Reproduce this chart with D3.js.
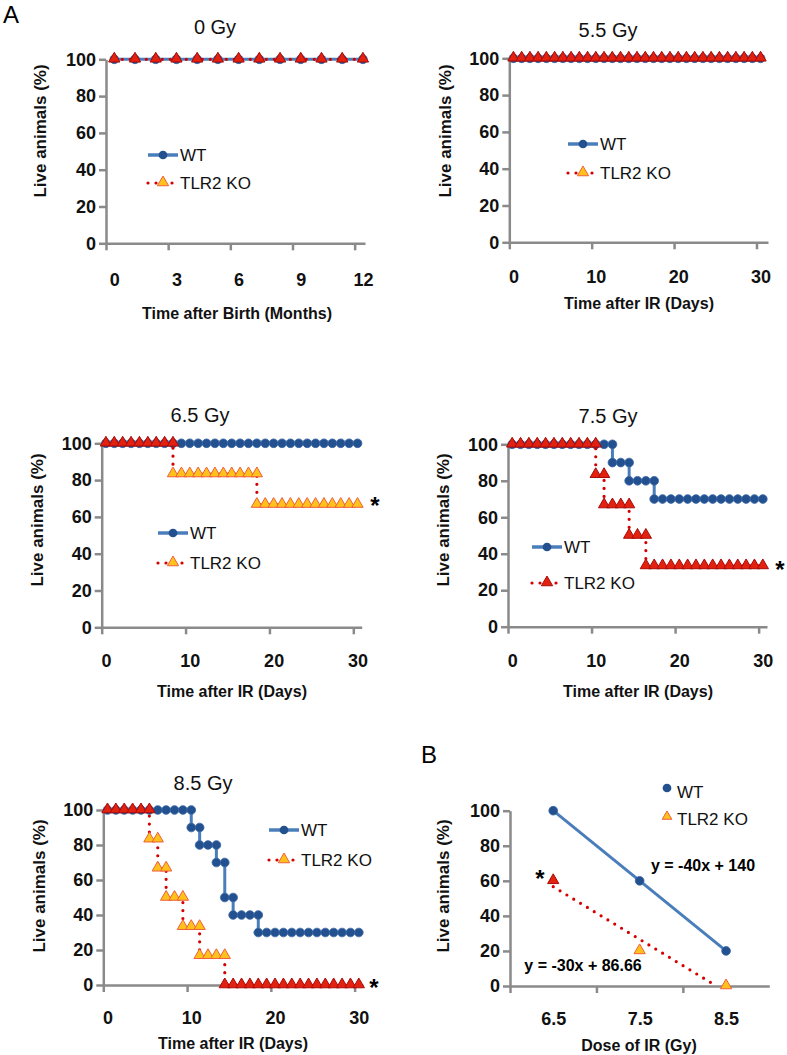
<!DOCTYPE html>
<html>
<head>
<meta charset="utf-8">
<script src="https://cdn.jsdelivr.net/npm/d3@7"></script>
<style>
body { margin: 0; background: #fff; }
svg { font-family: "Liberation Sans", Arial, sans-serif; }
.axis path, .axis line { stroke: #8a8a8a; stroke-width: 2.5; }
.axis text { font-family: "Liberation Sans", Arial, sans-serif; font-size: 18px; font-weight: bold; fill: #111; }
.title { font-size: 20px; fill: #111; }
.axisTitle { font-size: 16px; font-weight: bold; fill: #111; }
.yTitle { font-size: 17px; }
.legendText { font-size: 17px; fill: #111; }
</style>
</head>
<body>
<svg id="chart" width="787" height="1055"></svg>
<script>
// Survival data (% live animals)

var pctTicks = [0, 20, 40, 60, 80, 100];

// 0 Gy, months after birth
var months = [0, 1, 2, 3, 4, 5, 6, 7, 8, 9, 10, 11, 12];
var wt0 = [100, 100, 100, 100, 100, 100, 100, 100, 100, 100, 100, 100, 100];
var ko0 = [100, 100, 100, 100, 100, 100, 100, 100, 100, 100, 100, 100, 100];
var monthTicks = [0, 3, 6, 9, 12];

var dayTicks = [0, 10, 20, 30];

// 5.5 Gy
var days55 = [0, 1, 2, 3, 4, 5, 6, 7, 8, 9, 10, 11, 12, 13, 14, 15, 16, 17, 18, 19, 20, 21, 22, 23, 24, 25, 26, 27, 28, 29, 30];
var wt55 = [100, 100, 100, 100, 100, 100, 100, 100, 100, 100, 100, 100, 100, 100, 100, 100, 100, 100, 100, 100, 100, 100, 100, 100, 100, 100, 100, 100, 100, 100, 100];
var ko55 = [100, 100, 100, 100, 100, 100, 100, 100, 100, 100, 100, 100, 100, 100, 100, 100, 100, 100, 100, 100, 100, 100, 100, 100, 100, 100, 100, 100, 100, 100, 100];

// 6.5 Gy
var wt65Days = [0, 1, 2, 3, 4, 5, 6, 7, 8, 9, 10, 11, 12, 13, 14, 15, 16, 17, 18, 19, 20, 21, 22, 23, 24, 25, 26, 27, 28, 29, 30];
var wt65 = [100, 100, 100, 100, 100, 100, 100, 100, 100, 100, 100, 100, 100, 100, 100, 100, 100, 100, 100, 100, 100, 100, 100, 100, 100, 100, 100, 100, 100, 100, 100];
var ko65Days = [0, 1, 2, 3, 4, 5, 6, 7, 8, 8, 9, 10, 11, 12, 13, 14, 15, 16, 17, 18, 18, 19, 20, 21, 22, 23, 24, 25, 26, 27, 28, 29, 30];
var ko65 = [100, 100, 100, 100, 100, 100, 100, 100, 100, 83.3, 83.3, 83.3, 83.3, 83.3, 83.3, 83.3, 83.3, 83.3, 83.3, 83.3, 66.7, 66.7, 66.7, 66.7, 66.7, 66.7, 66.7, 66.7, 66.7, 66.7, 66.7, 66.7, 66.7];

// 7.5 Gy
var wt75Days = [0, 1, 2, 3, 4, 5, 6, 7, 8, 9, 10, 11, 12, 12, 13, 14, 14, 15, 16, 17, 17, 18, 19, 20, 21, 22, 23, 24, 25, 26, 27, 28, 29, 30];
var wt75 = [100, 100, 100, 100, 100, 100, 100, 100, 100, 100, 100, 100, 100, 90, 90, 90, 80, 80, 80, 80, 70, 70, 70, 70, 70, 70, 70, 70, 70, 70, 70, 70, 70, 70];
var ko75Days = [0, 1, 2, 3, 4, 5, 6, 7, 8, 9, 10, 10, 11, 11, 12, 13, 14, 14, 15, 16, 16, 17, 18, 19, 20, 21, 22, 23, 24, 25, 26, 27, 28, 29, 30];
var ko75 = [100, 100, 100, 100, 100, 100, 100, 100, 100, 100, 100, 83.3, 83.3, 66.7, 66.7, 66.7, 66.7, 50, 50, 50, 33.3, 33.3, 33.3, 33.3, 33.3, 33.3, 33.3, 33.3, 33.3, 33.3, 33.3, 33.3, 33.3, 33.3, 33.3];

// 8.5 Gy
var wt85Days = [0, 1, 2, 3, 4, 5, 6, 7, 8, 9, 10, 10, 11, 11, 12, 13, 13, 14, 14, 15, 15, 16, 17, 18, 18, 19, 20, 21, 22, 23, 24, 25, 26, 27, 28, 29, 30];
var wt85 = [100, 100, 100, 100, 100, 100, 100, 100, 100, 100, 100, 90, 90, 80, 80, 80, 70, 70, 50, 50, 40, 40, 40, 40, 30, 30, 30, 30, 30, 30, 30, 30, 30, 30, 30, 30, 30];
var ko85Days = [0, 1, 2, 3, 4, 5, 5, 6, 6, 7, 7, 8, 9, 9, 10, 11, 11, 12, 13, 14, 14, 15, 16, 17, 18, 19, 20, 21, 22, 23, 24, 25, 26, 27, 28, 29, 30];
var ko85 = [100, 100, 100, 100, 100, 100, 83.3, 83.3, 66.7, 66.7, 50, 50, 50, 33.3, 33.3, 33.3, 16.7, 16.7, 16.7, 16.7, 0, 0, 0, 0, 0, 0, 0, 0, 0, 0, 0, 0, 0, 0, 0, 0, 0];

// B: survival at day 30 vs dose
var doses = ["6.5", "7.5", "8.5"];
var doseIndex = [1, 2, 3];
var wtDose = [100, 60, 20];
var koDose = [60, 20, 0];
var wtFit = { slope: -40, intercept: 140 };
var koFit = { slope: -30, intercept: 86.66 };

var blue = "#4a7ebb", darkBlue = "#23508e", red = "#d40000";
var circleSize = 60, triSize = 55;

var svg = d3.select("#chart");

var line = function (x, y) {
    return d3.line().x(function (d) { return x(d[0]); }).y(function (d) { return y(d[1]); });
};

function drawCircles(g, pts, x, y) {
    g.selectAll(null).data(pts).enter().append("path")
        .attr("transform", function (d) { return "translate(" + x(d[0]) + "," + y(d[1]) + ")"; })
        .attr("d", d3.symbol().type(d3.symbolCircle).size(circleSize))
        .attr("fill", darkBlue)
        .attr("stroke", "#3a67a6")
        .attr("stroke-width", 0.8);
}

function drawTriangles(g, pts, x, y, redValues) {
    g.selectAll(null).data(pts).enter().append("path")
        .attr("transform", function (d) { return "translate(" + x(d[0]) + "," + (y(d[1]) - 0.5) + ")"; })
        .attr("d", d3.symbol().type(d3.symbolTriangle).size(triSize))
        .attr("fill", function (d) { return redValues.indexOf(d[1]) >= 0 ? "#e3210f" : "#ffc21a"; })
        .attr("stroke", function (d) { return redValues.indexOf(d[1]) >= 0 ? "#a80b0b" : "#ef5f3c"; })
        .attr("stroke-width", 1);
}

function drawAxes(p, x, y) {
    svg.append("g").attr("class", "axis")
        .attr("transform", "translate(" + p.left + ",0)")
        .call(d3.axisLeft(y).tickValues(pctTicks).tickSize(7).tickSizeOuter(0).tickPadding(3));

    svg.append("g").attr("class", "axis")
        .attr("transform", "translate(0," + p.bottom + ")")
        .call(d3.axisBottom(x).tickValues(p.xTicks.map(function (v) { return v + p.tickShift; }))
            .tickSize(7).tickSizeOuter(0).tickFormat(""));

    svg.append("g").attr("class", "axis")
        .attr("transform", "translate(0," + (p.labelY - 6.5) + ")")
        .call(d3.axisBottom(x).tickValues(p.xTicks).tickSize(0).tickPadding(0).tickFormat(p.fmt || d3.format("d")))
        .call(function (g) { g.select(".domain").remove(); });

    svg.append("text").attr("class", "axisTitle")
        .attr("x", p.xTitle[0]).attr("y", p.xTitle[1])
        .attr("text-anchor", "middle").attr("dominant-baseline", "central")
        .text(p.xLabel);

    svg.append("text").attr("class", "axisTitle yTitle")
        .attr("transform", "translate(" + p.yTitle[0] + "," + p.yTitle[1] + ") rotate(-90)")
        .attr("text-anchor", "middle").attr("dominant-baseline", "central")
        .text("Live animals (%)");
}

function star(xx, yy) {
    svg.append("text").attr("x", xx).attr("y", yy + 10)
        .attr("text-anchor", "middle")
        .style("font-size", "24px").style("font-weight", "bold")
        .text("*");
}

function kmPanel(p) {
    var x = d3.scaleLinear().domain(p.xDomain).range([p.left, p.right]);
    var y = d3.scaleLinear().domain([0, 100]).range([p.bottom, p.top]);

    drawAxes(p, x, y);

    svg.append("text").attr("class", "title")
        .attr("x", p.title[0]).attr("y", p.title[1])
        .attr("text-anchor", "middle").attr("dominant-baseline", "central")
        .text(p.name);

    var wt = d3.zip(p.wtX, p.wt);
    var ko = d3.zip(p.koX, p.ko);
    var g = svg.append("g");

    g.append("path").datum(wt)
        .attr("d", line(x, y))
        .attr("fill", "none").attr("stroke", blue).attr("stroke-width", 3);
    drawCircles(g, wt, x, y);

    g.append("path").datum(ko)
        .attr("d", line(x, y))
        .attr("fill", "none").attr("stroke", red).attr("stroke-width", 3.2)
        .attr("stroke-linecap", "round").attr("stroke-dasharray", "0 8");
    drawTriangles(g, ko, x, y, p.redValues);

    // legend
    var lg = p.legend;
    svg.append("line").attr("x1", lg[0]).attr("x2", lg[0] + 30).attr("y1", lg[1]).attr("y2", lg[1])
        .attr("stroke", blue).attr("stroke-width", 3.5);
    svg.append("path").attr("transform", "translate(" + (lg[0] + 15) + "," + lg[1] + ")")
        .attr("d", d3.symbol().type(d3.symbolCircle).size(circleSize)).attr("fill", darkBlue);
    svg.append("line").attr("x1", lg[0]).attr("x2", lg[0] + 30).attr("y1", lg[2]).attr("y2", lg[2])
        .attr("stroke", red).attr("stroke-width", 3.2)
        .attr("stroke-linecap", "round").attr("stroke-dasharray", "0 8");
    svg.append("path").attr("transform", "translate(" + (lg[0] + 15) + "," + (lg[2] - 0.5) + ")")
        .attr("d", d3.symbol().type(d3.symbolTriangle).size(triSize))
        .attr("fill", p.legendRed ? "#e3210f" : "#ffc21a")
        .attr("stroke", p.legendRed ? "#a80b0b" : "#ef5f3c");
    svg.append("text").attr("class", "legendText").attr("x", lg[0] + 32).attr("y", lg[1])
        .attr("dominant-baseline", "central").text("WT");
    svg.append("text").attr("class", "legendText").attr("x", lg[0] + 32).attr("y", lg[2])
        .attr("dominant-baseline", "central").text("TLR2 KO");

    if (p.star) star(p.star[0], p.star[1]);
}

kmPanel({
    name: "0 Gy", left: 106, right: 365, top: 59.3, bottom: 243.3,
    xDomain: [-0.4, 12.1], xTicks: monthTicks, tickShift: -0.4,
    labelY: 280, xTitle: [237, 313], yTitle: [40, 131], title: [215, 27],
    xLabel: "Time after Birth (Months)",
    wtX: months, wt: wt0, koX: months, ko: ko0, redValues: [100],
    legend: [148, 155, 183]
});

kmPanel({
    name: "5.5 Gy", left: 509.3, right: 768, top: 58.3, bottom: 242.3,
    xDomain: [-0.5, 30.9], xTicks: dayTicks, tickShift: -0.5,
    labelY: 277, xTitle: [639, 303], yTitle: [445, 131], title: [608, 30],
    xLabel: "Time after IR (Days)",
    wtX: days55, wt: wt55, koX: days55, ko: ko55, redValues: [100],
    legend: [568, 144, 173]
});

kmPanel({
    name: "6.5 Gy", left: 101.7, right: 361.7, top: 443.3, bottom: 627.3,
    xDomain: [-0.5, 30.5], xTicks: dayTicks, tickShift: -0.5,
    labelY: 661, xTitle: [232, 691], yTitle: [37, 520], title: [200, 415],
    xLabel: "Time after IR (Days)",
    wtX: wt65Days, wt: wt65, koX: ko65Days, ko: ko65, redValues: [100, 0],
    legend: [158, 533, 563], star: [375, 504]
});

kmPanel({
    name: "7.5 Gy", left: 508, right: 767, top: 444.3, bottom: 626.7,
    xDomain: [-0.5, 30.5], xTicks: dayTicks, tickShift: -0.5,
    labelY: 661, xTitle: [638, 691], yTitle: [443, 520], title: [608, 416],
    xLabel: "Time after IR (Days)",
    wtX: wt75Days, wt: wt75, koX: ko75Days, ko: ko75, redValues: [100, 83.3, 66.7, 50, 33.3],
    legend: [532, 547, 583], legendRed: true, star: [780, 568]
});

kmPanel({
    name: "8.5 Gy", left: 103.3, right: 363, top: 810, bottom: 985,
    xDomain: [-0.5, 30.5], xTicks: dayTicks, tickShift: -0.5,
    labelY: 1018, xTitle: [233, 1043], yTitle: [39, 886], title: [203, 783],
    xLabel: "Time after IR (Days)",
    wtX: wt85Days, wt: wt85, koX: ko85Days, ko: ko85, redValues: [100, 0],
    legend: [269, 830, 860], star: [374, 986]
});

// Panel B
(function () {
    var p = {
        left: 510, right: 769.3, top: 810.7, bottom: 986,
        xTicks: doseIndex, tickShift: -0.5, labelY: 1019,
        xTitle: [639, 1045], yTitle: [443, 886], xLabel: "Dose of IR (Gy)",
        fmt: function (d) { return doses[d - 1]; }
    };
    var x = d3.scaleLinear().domain([0.5, 3.5]).range([p.left, p.right]);
    var y = d3.scaleLinear().domain([0, 100]).range([p.bottom, p.top]);
    drawAxes(p, x, y);

    var g = svg.append("g");
    var wtLine = [[1, wtFit.slope + wtFit.intercept], [3, wtFit.slope * 3 + wtFit.intercept]];
    var koEnd = -koFit.intercept / koFit.slope;
    var koLine = [[1, koFit.slope + koFit.intercept], [koEnd, 0]];

    g.append("path").datum(wtLine).attr("d", line(x, y))
        .attr("fill", "none").attr("stroke", blue).attr("stroke-width", 3);
    g.append("path").datum(koLine).attr("d", line(x, y))
        .attr("fill", "none").attr("stroke", red).attr("stroke-width", 3.2)
        .attr("stroke-linecap", "round").attr("stroke-dasharray", "0 8");

    drawCircles(g, d3.zip(doseIndex, wtDose), x, y);
    drawTriangles(g, d3.zip(doseIndex, koDose), x, y, [60]);

    svg.append("text").attr("x", 703).attr("y", 865)
        .attr("text-anchor", "middle").attr("dominant-baseline", "central")
        .style("font-size", "16px").style("font-weight", "bold")
        .text("y = " + wtFit.slope + "x + " + wtFit.intercept);
    svg.append("text").attr("x", 583).attr("y", 965)
        .attr("text-anchor", "middle").attr("dominant-baseline", "central")
        .style("font-size", "16px").style("font-weight", "bold")
        .text("y = " + koFit.slope + "x + " + koFit.intercept);
    star(540, 877);

    // legend
    svg.append("path").attr("transform", "translate(667,788)")
        .attr("d", d3.symbol().type(d3.symbolCircle).size(circleSize)).attr("fill", darkBlue);
    svg.append("path").attr("transform", "translate(667,816.5)")
        .attr("d", d3.symbol().type(d3.symbolTriangle).size(40))
        .attr("fill", "#ffc21a").attr("stroke", "#ef5f3c");
    svg.append("text").attr("class", "legendText").attr("x", 677).attr("y", 792)
        .attr("dominant-baseline", "central").text("WT");
    svg.append("text").attr("class", "legendText").attr("x", 677).attr("y", 819)
        .attr("dominant-baseline", "central").text("TLR2 KO");
})();

// panel letters
svg.append("text").attr("x", 3).attr("y", 23).style("font-size", "24px").text("A");
svg.append("text").attr("x", 421).attr("y", 763).style("font-size", "24px").text("B");
</script>
</body>
</html>
